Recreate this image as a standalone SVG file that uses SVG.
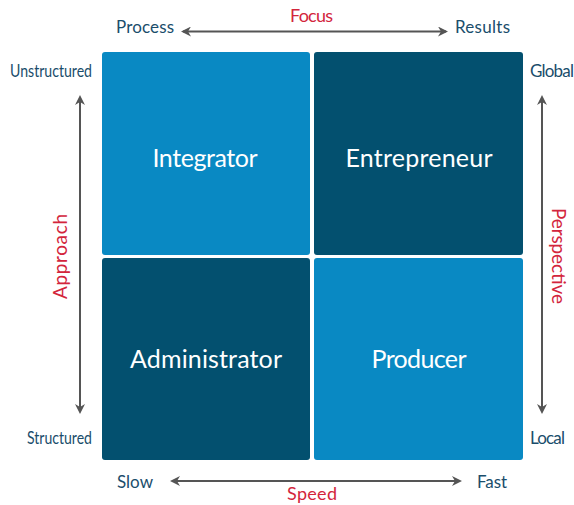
<svg xmlns="http://www.w3.org/2000/svg" width="574" height="505" viewBox="0 0 574 505">
<style>
.box-l{fill:#0989c3}
.box-d{fill:#03506f}
.bt{font-family:"Lato","Noto Sans",sans-serif;font-size:25px;fill:#fff;text-anchor:middle}
.lab{font-family:"Lato","Noto Sans",sans-serif;font-size:17px;fill:#1a4d6b}
.ax{font-family:"Lato","Noto Sans",sans-serif;font-size:18px;fill:#d3253c;text-anchor:middle}
.ar{stroke:#555;stroke-width:2;fill:none;marker-start:url(#ah);marker-end:url(#ah)}
</style>
<defs>
<marker id="ah" viewBox="0 0 10 10" refX="8" refY="5" markerWidth="5" markerHeight="5" orient="auto-start-reverse">
<path d="M0,0 L10,5 L0,10 L3,5 Z" fill="#555"/>
</marker>
</defs>
<rect width="574" height="505" fill="#fff"/>
<g id="integrator"><rect class="box-l" x="102" y="52" width="208" height="203" rx="3"/><text class="bt" x="205" y="167" textLength="105">Integrator</text></g>
<g id="entrepreneur"><rect class="box-d" x="314" y="52" width="209" height="203" rx="3"/><text class="bt" x="419" y="167" textLength="147">Entrepreneur</text></g>
<g id="administrator"><rect class="box-d" x="102" y="258" width="208" height="202" rx="3"/><text class="bt" x="206" y="368" textLength="152">Administrator</text></g>
<g id="producer"><rect class="box-l" x="314" y="258" width="209" height="202" rx="3"/><text class="bt" x="419" y="368" textLength="95">Producer</text></g>
<g id="connectors">
<line class="ar" x1="183" y1="31.5" x2="446" y2="31.5"/>
<line class="ar" x1="172" y1="481" x2="460" y2="481"/>
<line class="ar" x1="80" y1="97" x2="80" y2="412"/>
<line class="ar" x1="542" y1="97" x2="542" y2="412"/>
</g>
<g id="labels">
<text class="lab" x="116" y="33" textLength="58">Process</text>
<text class="lab" x="455" y="33" textLength="55">Results</text>
<text class="ax" x="311.5" y="22" textLength="43">Focus</text>
<text class="lab" x="10" y="77" textLength="82" lengthAdjust="spacingAndGlyphs">Unstructured</text>
<text class="lab" x="530" y="77" textLength="44">Global</text>
<text class="lab" x="27" y="444" textLength="65" lengthAdjust="spacingAndGlyphs">Structured</text>
<text class="lab" x="530" y="444" textLength="35">Local</text>
<text class="lab" x="117" y="488" textLength="36">Slow</text>
<text class="lab" x="477" y="488" textLength="30">Fast</text>
<text class="ax" x="312" y="500" textLength="50">Speed</text>
<text class="ax" transform="translate(67,256.5) rotate(-90)" style="font-size:19px" textLength="85">Approach</text>
<text class="ax" transform="translate(552,256) rotate(90)" style="font-size:19px" textLength="96">Perspective</text>
</g>
</svg>
